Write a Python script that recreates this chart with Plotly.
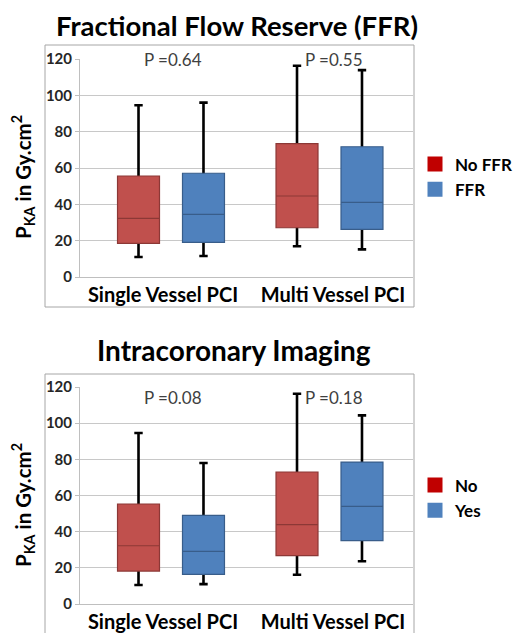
import plotly.graph_objects as go

categories = ["Single Vessel PCI", "Multi Vessel PCI"]
x_pos = [0, 1]  # category index of each group of boxes

# Top chart: Fractional Flow Reserve (FFR)
ffr_no_min = [11.0, 16.9]
ffr_no_q1 = [18.5, 27.1]
ffr_no_med = [32.3, 44.6]
ffr_no_q3 = [55.6, 73.4]
ffr_no_max = [94.5, 116.3]

ffr_yes_min = [11.6, 15.2]
ffr_yes_q1 = [19.1, 26.2]
ffr_yes_med = [34.5, 41.1]
ffr_yes_q3 = [57.1, 71.7]
ffr_yes_max = [96.0, 113.9]

ffr_pvalues = ["P =0.64", "P =0.55"]

# Bottom chart: Intracoronary Imaging
ici_no_min = [10.5, 16.2]
ici_no_q1 = [18.2, 26.7]
ici_no_med = [32.2, 43.9]
ici_no_q3 = [55.3, 73.0]
ici_no_max = [94.6, 116.3]

ici_yes_min = [11.0, 23.6]
ici_yes_q1 = [16.4, 35.0]
ici_yes_med = [29.1, 54.0]
ici_yes_q3 = [49.0, 78.5]
ici_yes_max = [78.0, 104.3]

ici_pvalues = ["P =0.08", "P =0.18"]

y_ticks = [0, 20, 40, 60, 80, 100, 120]

RED_FILL = "#C0504D"
RED_EDGE = "#8C3836"
BLUE_FILL = "#4F81BD"
BLUE_EDGE = "#385D8A"
RED_LEG = "#C00000"
BLUE_LEG = "#4F81BD"
FONT = "Lato"

# page body has an 8px margin: figure occupies window pixels 8..521 / 8..633
OFF = 8
W, H = 521 - OFF, 633 - OFF


def px(xr):
    return (xr - OFF) / W


def py(yr):
    return 1 - (yr - OFF) / H


fig = go.Figure()


def add_series(xa, ya, group, mins, q1, med, q3, maxs, fill, edge):
    # whiskers (black, with caps)
    fig.add_trace(go.Box(
        x=x_pos, q1=med, median=med, q3=med,
        lowerfence=mins, upperfence=maxs,
        xaxis=xa, yaxis=ya, offsetgroup=group,
        line=dict(color="black", width=2.6), fillcolor="rgba(0,0,0,0)",
        whiskerwidth=0.2, showlegend=False, hoverinfo="skip", boxpoints=False,
    ))
    # coloured box
    fig.add_trace(go.Box(
        x=x_pos, q1=q1, median=med, q3=q3,
        lowerfence=q1, upperfence=q3,
        xaxis=xa, yaxis=ya, offsetgroup=group,
        line=dict(color=edge, width=1.2), fillcolor=fill,
        whiskerwidth=0, showlegend=False, boxpoints=False,
    ))


add_series("x", "y", "a", ffr_no_min, ffr_no_q1, ffr_no_med, ffr_no_q3, ffr_no_max, RED_FILL, RED_EDGE)
add_series("x", "y", "b", ffr_yes_min, ffr_yes_q1, ffr_yes_med, ffr_yes_q3, ffr_yes_max, BLUE_FILL, BLUE_EDGE)
add_series("x2", "y2", "a", ici_no_min, ici_no_q1, ici_no_med, ici_no_q3, ici_no_max, RED_FILL, RED_EDGE)
add_series("x2", "y2", "b", ici_yes_min, ici_yes_q1, ici_yes_med, ici_yes_q3, ici_yes_max, BLUE_FILL, BLUE_EDGE)

# legend entries
for name, col, leg, xa, ya in [("No FFR", RED_LEG, "legend", "x", "y"),
                               ("FFR", BLUE_LEG, "legend", "x", "y"),
                               ("No", RED_LEG, "legend2", "x2", "y2"),
                               ("Yes", BLUE_LEG, "legend2", "x2", "y2")]:
    fig.add_trace(go.Scatter(
        x=[None], y=[None], mode="markers", name=name, legend=leg,
        xaxis=xa, yaxis=ya,
        marker=dict(symbol="square", size=15, color=col),
    ))

xdom = [px(80), px(413)]
top_dom = [py(277), py(59)]
bot_dom = [py(604), py(387)]

# x range: group 0 centred at window px 171, group 1 at 329.5
unit = 329.5 - 171
x_range = [(80 - 171) / unit, 1 + (413 - 329.5) / unit]
label_pos = [(163 - 171) / unit, (333 - 171) / unit]

xax = dict(
    domain=xdom, range=x_range, tickvals=label_pos, ticktext=categories,
    showgrid=False, showline=True, zeroline=False,
    linecolor="#BFBFBF", linewidth=1, ticks="", automargin=False,
    tickfont=dict(family=FONT, size=20, color="black", weight="bold"),
    fixedrange=True,
)
yax = dict(
    range=[0, 120], tickvals=y_ticks, showgrid=True, gridcolor="#C8C8C8",
    gridwidth=1, showline=True, linecolor="#BFBFBF", linewidth=1,
    ticks="outside", ticklen=4, tickcolor="#BFBFBF", zeroline=False,
    automargin=False,
    tickfont=dict(family=FONT, size=15, color="#262626", weight="bold"),
)

legend_common = dict(
    font=dict(family=FONT, size=17, color="black", weight="bold"),
    xanchor="left", yanchor="middle", bgcolor="rgba(0,0,0,0)",
    itemclick=False, itemdoubleclick=False, tracegroupgap=0,
)

fig.update_layout(
    width=W, height=H,
    margin=dict(l=0, r=0, t=0, b=0, autoexpand=False),
    paper_bgcolor="white", plot_bgcolor="white",
    boxmode="group", boxgap=0.18, boxgroupgap=0.354,
    xaxis=dict(xax, anchor="y"),
    yaxis=dict(yax, domain=top_dom, anchor="x"),
    xaxis2=dict(xax, anchor="y2"),
    yaxis2=dict(yax, domain=bot_dom, anchor="x2"),
    legend=dict(legend_common, x=px(415), y=py(177)),
    legend2=dict(legend_common, x=px(415), y=py(498)),
    showlegend=True,
)

# outer chart frames
for y0, y1 in [(py(307), py(45)), (-0.05, py(374))]:
    fig.add_shape(type="rect", xref="paper", yref="paper",
                  x0=px(45), x1=px(414), y0=y0, y1=y1,
                  line=dict(color="#A6A6A6", width=1), fillcolor="rgba(0,0,0,0)",
                  layer="below")

# titles
fig.add_annotation(text="Fractional Flow Reserve (FFR)", xref="paper", yref="paper",
                   x=px(237), y=py(25), xanchor="center", yanchor="middle", showarrow=False,
                   font=dict(family=FONT, size=27.5, color="black", weight="bold"))
fig.add_annotation(text="Intracoronary Imaging", xref="paper", yref="paper",
                   x=px(234), y=py(350), xanchor="center", yanchor="middle", showarrow=False,
                   font=dict(family=FONT, size=28, color="black", weight="bold"))

# y-axis titles
for yc in [177, 505]:
    fig.add_annotation(text="P<sub>KA</sub> in Gy.cm<sup>2</sup>", xref="paper", yref="paper",
                       x=px(23), y=py(yc), xanchor="center", yanchor="middle",
                       showarrow=False, textangle=-90,
                       font=dict(family=FONT, size=20.5, color="black", weight="bold"))

# p-values
for i, (txt, xs) in enumerate(zip(ffr_pvalues, [1.5, 4.5])):
    fig.add_annotation(text=txt, x=x_pos[i], y=120, xref="x", yref="y",
                       xshift=xs, showarrow=False, xanchor="center", yanchor="middle",
                       font=dict(family=FONT, size=17, color="#404040"))
for i, (txt, xs) in enumerate(zip(ici_pvalues, [1.5, 4.5])):
    fig.add_annotation(text=txt, x=x_pos[i], y=114, xref="x2", yref="y2",
                       xshift=xs, showarrow=False, xanchor="center", yanchor="middle",
                       font=dict(family=FONT, size=17, color="#404040"))

fig.write_html("out.html")
